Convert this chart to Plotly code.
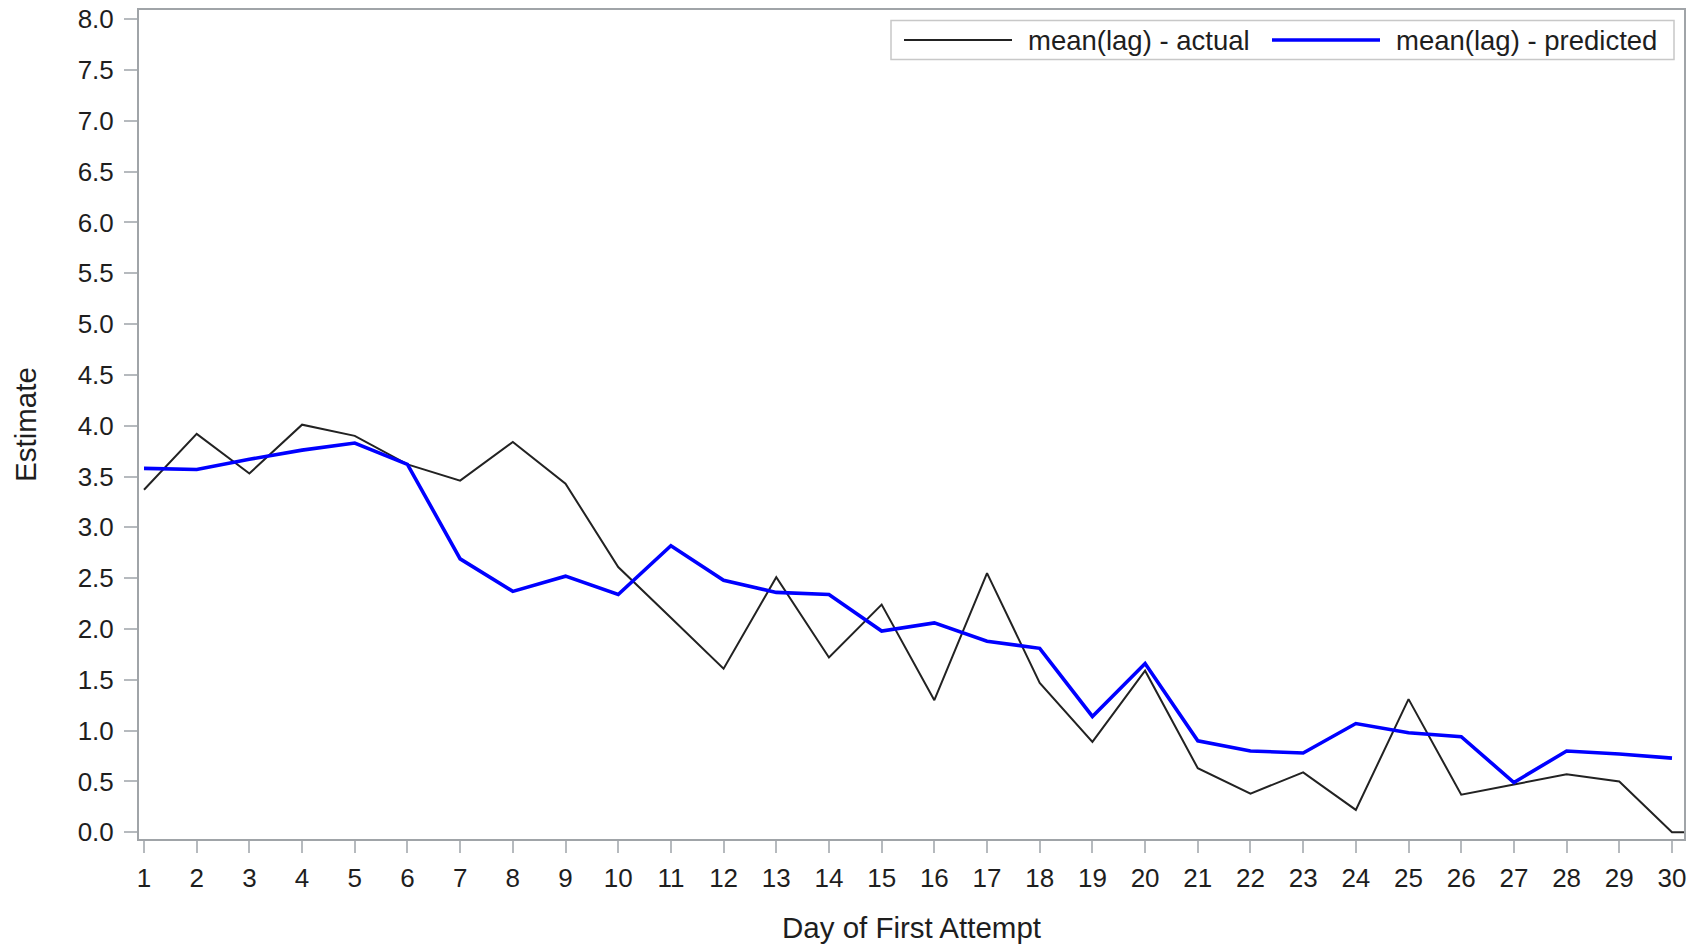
import plotly.graph_objects as go

# Day of first attempt (1..30); the actual series has one more point past the axis end
days = list(range(1, 31))
actual_days = list(range(1, 32))

actual = [3.37, 3.92, 3.53, 4.01, 3.90, 3.62, 3.46, 3.84, 3.43, 2.61,
          2.11, 1.61, 2.51, 1.72, 2.24, 1.30, 2.55, 1.47, 0.89, 1.59,
          0.63, 0.38, 0.59, 0.22, 1.31, 0.37, 0.47, 0.57, 0.50, 0.00,
          0.00]
predicted = [3.58, 3.57, 3.67, 3.76, 3.83, 3.62, 2.69, 2.37, 2.52, 2.34,
             2.82, 2.48, 2.36, 2.34, 1.98, 2.06, 1.88, 1.81, 1.14, 1.66,
             0.90, 0.80, 0.78, 1.07, 0.98, 0.94, 0.49, 0.80, 0.77, 0.73]

y_ticks = [i * 0.5 for i in range(17)]
series_names = ["mean(lag) - actual", "mean(lag) - predicted"]

W, H = 1699, 944
ML, MR, MT, MB = 139, 15, 10, 105
FONT = "Liberation Sans, Arial, Helvetica, sans-serif"
TEXT = "#1e1e1e"
FRAME = "#a0a4a8"
TICK = "#b6babe"
BLACK = "#222222"
BLUE = "#0000ff"

fig = go.Figure()
fig.add_trace(go.Scatter(x=actual_days, y=actual, mode="lines", name=series_names[0],
                         line=dict(color=BLACK, width=2)))
fig.add_trace(go.Scatter(x=days, y=predicted, mode="lines", name=series_names[1],
                         line=dict(color=BLUE, width=3.6)))

fig.update_layout(
    width=W, height=H,
    margin=dict(l=ML, r=MR, t=MT, b=MB),
    plot_bgcolor="white", paper_bgcolor="white",
    showlegend=False,
    font=dict(family=FONT, color=TEXT),
)

fig.update_xaxes(
    range=[0.905, 30.228], automargin=False,
    tickmode="array", tickvals=days, ticktext=[str(d) for d in days],
    ticks="outside", ticklen=12, tickwidth=2, tickcolor=TICK,
    ticklabelstandoff=3,
    showline=True, linecolor=FRAME, linewidth=2, mirror=True,
    showgrid=False, zeroline=False,
    tickfont=dict(size=26, color=TEXT),
    title=dict(text="Day of First Attempt", font=dict(size=29.5, color=TEXT), standoff=27),
)
fig.update_yaxes(
    range=[-0.066, 8.09], automargin=False,
    tickmode="array", tickvals=y_ticks, ticktext=[f"{v:.1f}" for v in y_ticks],
    ticks="outside", ticklen=13, tickwidth=2, tickcolor=TICK,
    ticklabelstandoff=5,
    showline=True, linecolor=FRAME, linewidth=2, mirror=True,
    showgrid=False, zeroline=False,
    tickfont=dict(size=26, color=TEXT),
    title=dict(text="Estimate", font=dict(size=29.5, color=TEXT), standoff=32),
)

# Legend box drawn inside the top-right corner of the plot area
PW, PH = W - ML - MR, H - MT - MB


def px(xp):
    return (xp - ML) / PW


def py(yp):
    return (H - MB - yp) / PH


leg_y = 40
fig.add_shape(type="rect", xref="paper", yref="paper",
              x0=px(891), x1=px(1674), y0=py(59.5), y1=py(20.5),
              line=dict(color="#c8c8c8", width=1.5), fillcolor="white", layer="above")
fig.add_shape(type="line", xref="paper", yref="paper",
              x0=px(904), x1=px(1012), y0=py(leg_y), y1=py(leg_y),
              line=dict(color=BLACK, width=2), layer="above")
fig.add_shape(type="line", xref="paper", yref="paper",
              x0=px(1272), x1=px(1380), y0=py(leg_y), y1=py(leg_y),
              line=dict(color=BLUE, width=3.6), layer="above")
fig.add_annotation(x=px(1026), y=py(leg_y), xref="paper", yref="paper",
                   text=series_names[0], showarrow=False, xanchor="left", yanchor="middle",
                   font=dict(size=27.5, color=TEXT, family=FONT))
fig.add_annotation(x=px(1394), y=py(leg_y), xref="paper", yref="paper",
                   text=series_names[1], showarrow=False, xanchor="left", yanchor="middle",
                   font=dict(size=27.5, color=TEXT, family=FONT))

fig.write_html("out.html")
